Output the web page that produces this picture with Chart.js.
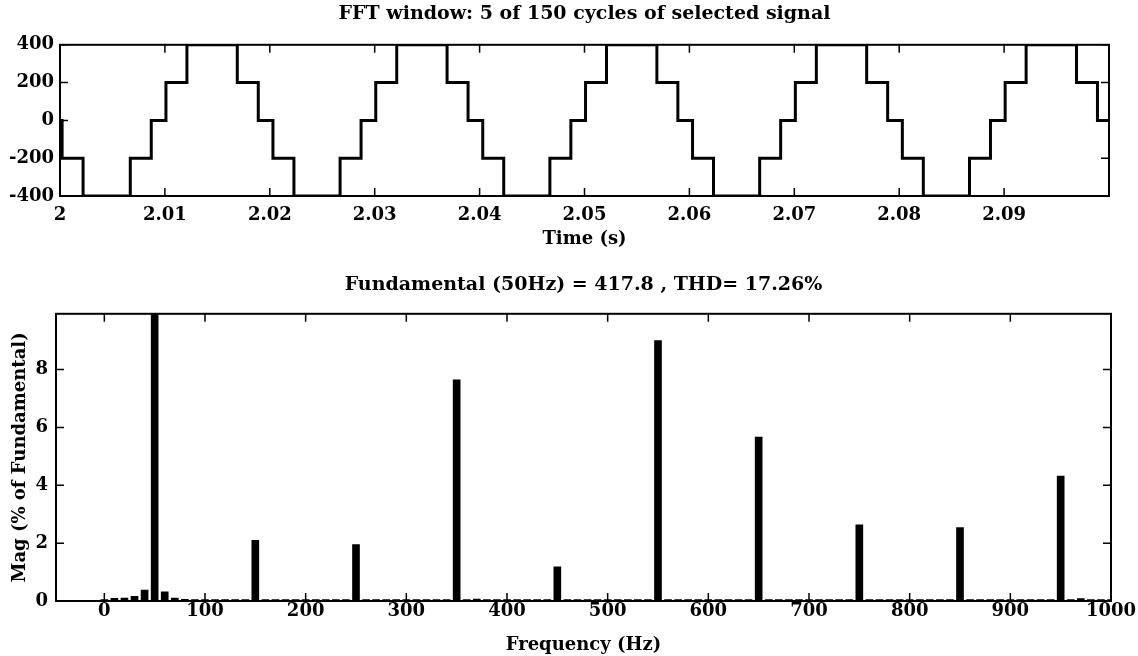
<!DOCTYPE html>
<html>
<head>
<meta charset="utf-8">
<script src="https://cdn.jsdelivr.net/npm/chart.js@4/dist/chart.umd.min.js"></script>
<style>
  html, body { margin: 0; padding: 0; background: #fff; }
  #wrap { position: relative; width: 1138px; height: 656px; }
  canvas { position: absolute; left: 0; }
  #cTime { top: 0; }
  #cFreq { top: 250px; }
</style>
</head>
<body>
<div id="wrap">
  <canvas id="cTime" width="1138" height="250"></canvas>
  <canvas id="cFreq" width="1138" height="406"></canvas>
</div>
<script>
// staircase signal: switching instants (s) and the level reached at each one
const STEP_TIMES = [
  2.0000, 2.0002, 2.0022,
  2.0067, 2.0087, 2.0101, 2.0121, 2.0169, 2.0189, 2.0203, 2.0223,
  2.0267, 2.0287, 2.0301, 2.0321, 2.0369, 2.0389, 2.0403, 2.0423,
  2.0467, 2.0487, 2.0501, 2.0521, 2.0569, 2.0589, 2.0603, 2.0623,
  2.0667, 2.0687, 2.0701, 2.0721, 2.0769, 2.0789, 2.0803, 2.0823,
  2.0867, 2.0887, 2.0901, 2.0921, 2.0969, 2.0989, 2.1000
];
const STEP_LEVELS = [
  0, -200, -400,
  -200, 0, 200, 400, 200, 0, -200, -400,
  -200, 0, 200, 400, 200, 0, -200, -400,
  -200, 0, 200, 400, 200, 0, -200, -400,
  -200, 0, 200, 400, 200, 0, -200, -400,
  -200, 0, 200, 400, 200, 0, 0
];
const TIME_TICKS = [2, 2.01, 2.02, 2.03, 2.04, 2.05, 2.06, 2.07, 2.08, 2.09];
const VOLT_TICKS = [-400, -200, 0, 200, 400];

// spectrum, % of fundamental
const FREQ_HZ = [
  0, 10, 20, 30, 40, 50, 60, 70, 80, 90,
  100, 110, 120, 130, 140, 150, 160, 170, 180, 190,
  200, 210, 220, 230, 240, 250, 260, 270, 280, 290,
  300, 310, 320, 330, 340, 350, 360, 370, 380, 390,
  400, 410, 420, 430, 440, 450, 460, 470, 480, 490,
  500, 510, 520, 530, 540, 550, 560, 570, 580, 590,
  600, 610, 620, 630, 640, 650, 660, 670, 680, 690,
  700, 710, 720, 730, 740, 750, 760, 770, 780, 790,
  800, 810, 820, 830, 840, 850, 860, 870, 880, 890,
  900, 910, 920, 930, 940, 950, 960, 970, 980, 990,
  1000
];
const MAG_PCT = [
  0.05, 0.09, 0.10, 0.16, 0.38, 100, 0.32, 0.10, 0.06, 0.05,
  0.05, 0.05, 0.05, 0.05, 0.05, 2.10, 0.05, 0.05, 0.05, 0.05,
  0.05, 0.05, 0.05, 0.05, 0.05, 1.95, 0.05, 0.05, 0.05, 0.05,
  0.05, 0.05, 0.05, 0.05, 0.05, 7.65, 0.05, 0.07, 0.05, 0.05,
  0.05, 0.05, 0.05, 0.05, 0.05, 1.18, 0.05, 0.05, 0.05, 0.05,
  0.05, 0.05, 0.05, 0.05, 0.05, 9.00, 0.05, 0.05, 0.05, 0.05,
  0.05, 0.05, 0.05, 0.05, 0.05, 5.67, 0.05, 0.05, 0.05, 0.05,
  0.05, 0.05, 0.05, 0.05, 0.05, 2.63, 0.05, 0.05, 0.05, 0.05,
  0.05, 0.05, 0.05, 0.05, 0.05, 2.54, 0.05, 0.05, 0.05, 0.05,
  0.05, 0.05, 0.05, 0.05, 0.05, 4.32, 0.05, 0.08, 0.05, 0.05,
  0.05
];
const FREQ_TICKS = [0, 100, 200, 300, 400, 500, 600, 700, 800, 900, 1000];
const MAG_TICKS = [0, 2, 4, 6, 8];

Chart.defaults.font.family = "'DejaVu Serif', serif";
Chart.defaults.font.weight = "bold";
Chart.defaults.font.size = 18;
Chart.defaults.color = "#000";
Chart.defaults.animation = false;

// matlab-like box with inward tick marks on all four sides
const boxTicks = {
  id: "boxTicks",
  afterDatasetsDraw(chart) {
    const { ctx, chartArea: a, scales: { x, y } } = chart;
    const len = 8;
    ctx.save();
    ctx.strokeStyle = "#000";
    ctx.lineWidth = 1.5;
    ctx.beginPath();
    x.ticks.forEach(t => {
      const px = x.getPixelForValue(t.value);
      ctx.moveTo(px, a.bottom); ctx.lineTo(px, a.bottom - len);
      ctx.moveTo(px, a.top); ctx.lineTo(px, a.top + len);
    });
    y.ticks.forEach(t => {
      const py = y.getPixelForValue(t.value);
      ctx.moveTo(a.left, py); ctx.lineTo(a.left + len, py);
      ctx.moveTo(a.right, py); ctx.lineTo(a.right - len, py);
    });
    ctx.stroke();
    ctx.lineWidth = 2;
    ctx.strokeRect(a.left, a.top, a.right - a.left, a.bottom - a.top);
    ctx.restore();
  }
};

const fixTicks = list => scale => { scale.ticks = list.map(v => ({ value: v })); };

new Chart(document.getElementById("cTime"), {
  type: "line",
  data: {
    datasets: [{
      data: STEP_TIMES.map((t, i) => ({ x: t, y: STEP_LEVELS[i] })),
      stepped: "before",
      borderColor: "#000",
      borderWidth: 3,
      pointRadius: 0,
      borderJoinStyle: "miter"
    }]
  },
  options: {
    responsive: false,
    layout: { padding: { left: 0, right: 29, top: 0, bottom: 0 } },
    plugins: {
      legend: { display: false },
      tooltip: { enabled: false },
      title: {
        display: true,
        fullSize: false,
        text: "FFT window: 5 of 150 cycles of selected signal",
        font: { size: 19 },
        padding: { top: 3, bottom: 19 }
      }
    },
    scales: {
      x: {
        type: "linear", min: 2, max: 2.1,
        afterBuildTicks: fixTicks(TIME_TICKS),
        afterFit: s => { s.height = 54; },
        grid: { display: false, drawTicks: false },
        border: { display: false },
        ticks: { padding: 9, maxRotation: 0, autoSkip: false, callback: v => String(+v.toFixed(2)) },
        title: { display: true, text: "Time (s)", padding: { top: 3, bottom: 0 } }
      },
      y: {
        min: -400, max: 400,
        afterBuildTicks: fixTicks(VOLT_TICKS),
        afterFit: s => { s.width = 60; },
        grid: { display: false, drawTicks: false },
        border: { display: false },
        ticks: { padding: 6 }
      }
    }
  },
  plugins: [boxTicks]
});

new Chart(document.getElementById("cFreq"), {
  type: "bar",
  data: {
    datasets: [{
      data: FREQ_HZ.map((f, i) => ({ x: f, y: MAG_PCT[i] })),
      backgroundColor: "#000",
      barThickness: 7,
      grouped: false
    }]
  },
  options: {
    responsive: false,
    layout: { padding: { left: 0, right: 27, top: 0, bottom: 0 } },
    plugins: {
      legend: { display: false },
      tooltip: { enabled: false },
      title: {
        display: true,
        fullSize: false,
        text: "Fundamental (50Hz) = 417.8 , THD= 17.26%",
        font: { size: 19 },
        padding: { top: 24, bottom: 17 }
      }
    },
    scales: {
      x: {
        type: "linear", min: -48, max: 1000, offset: false,
        afterBuildTicks: fixTicks(FREQ_TICKS),
        afterFit: s => { s.height = 55; },
        grid: { display: false, drawTicks: false, offset: false },
        border: { display: false },
        ticks: { padding: 0, maxRotation: 0, autoSkip: false, callback: v => String(v) },
        title: { display: true, text: "Frequency (Hz)", padding: { top: 4, bottom: 0 } }
      },
      y: {
        min: 0, max: 9.93,
        afterBuildTicks: fixTicks(MAG_TICKS),
        afterFit: s => { s.width = 56; },
        grid: { display: false, drawTicks: false },
        border: { display: false },
        ticks: { padding: 8 },
        title: { display: true, text: "Mag (% of Fundamental)", padding: { top: 10, bottom: 0 } }
      }
    }
  },
  plugins: [boxTicks]
});
</script>
</body>
</html>
